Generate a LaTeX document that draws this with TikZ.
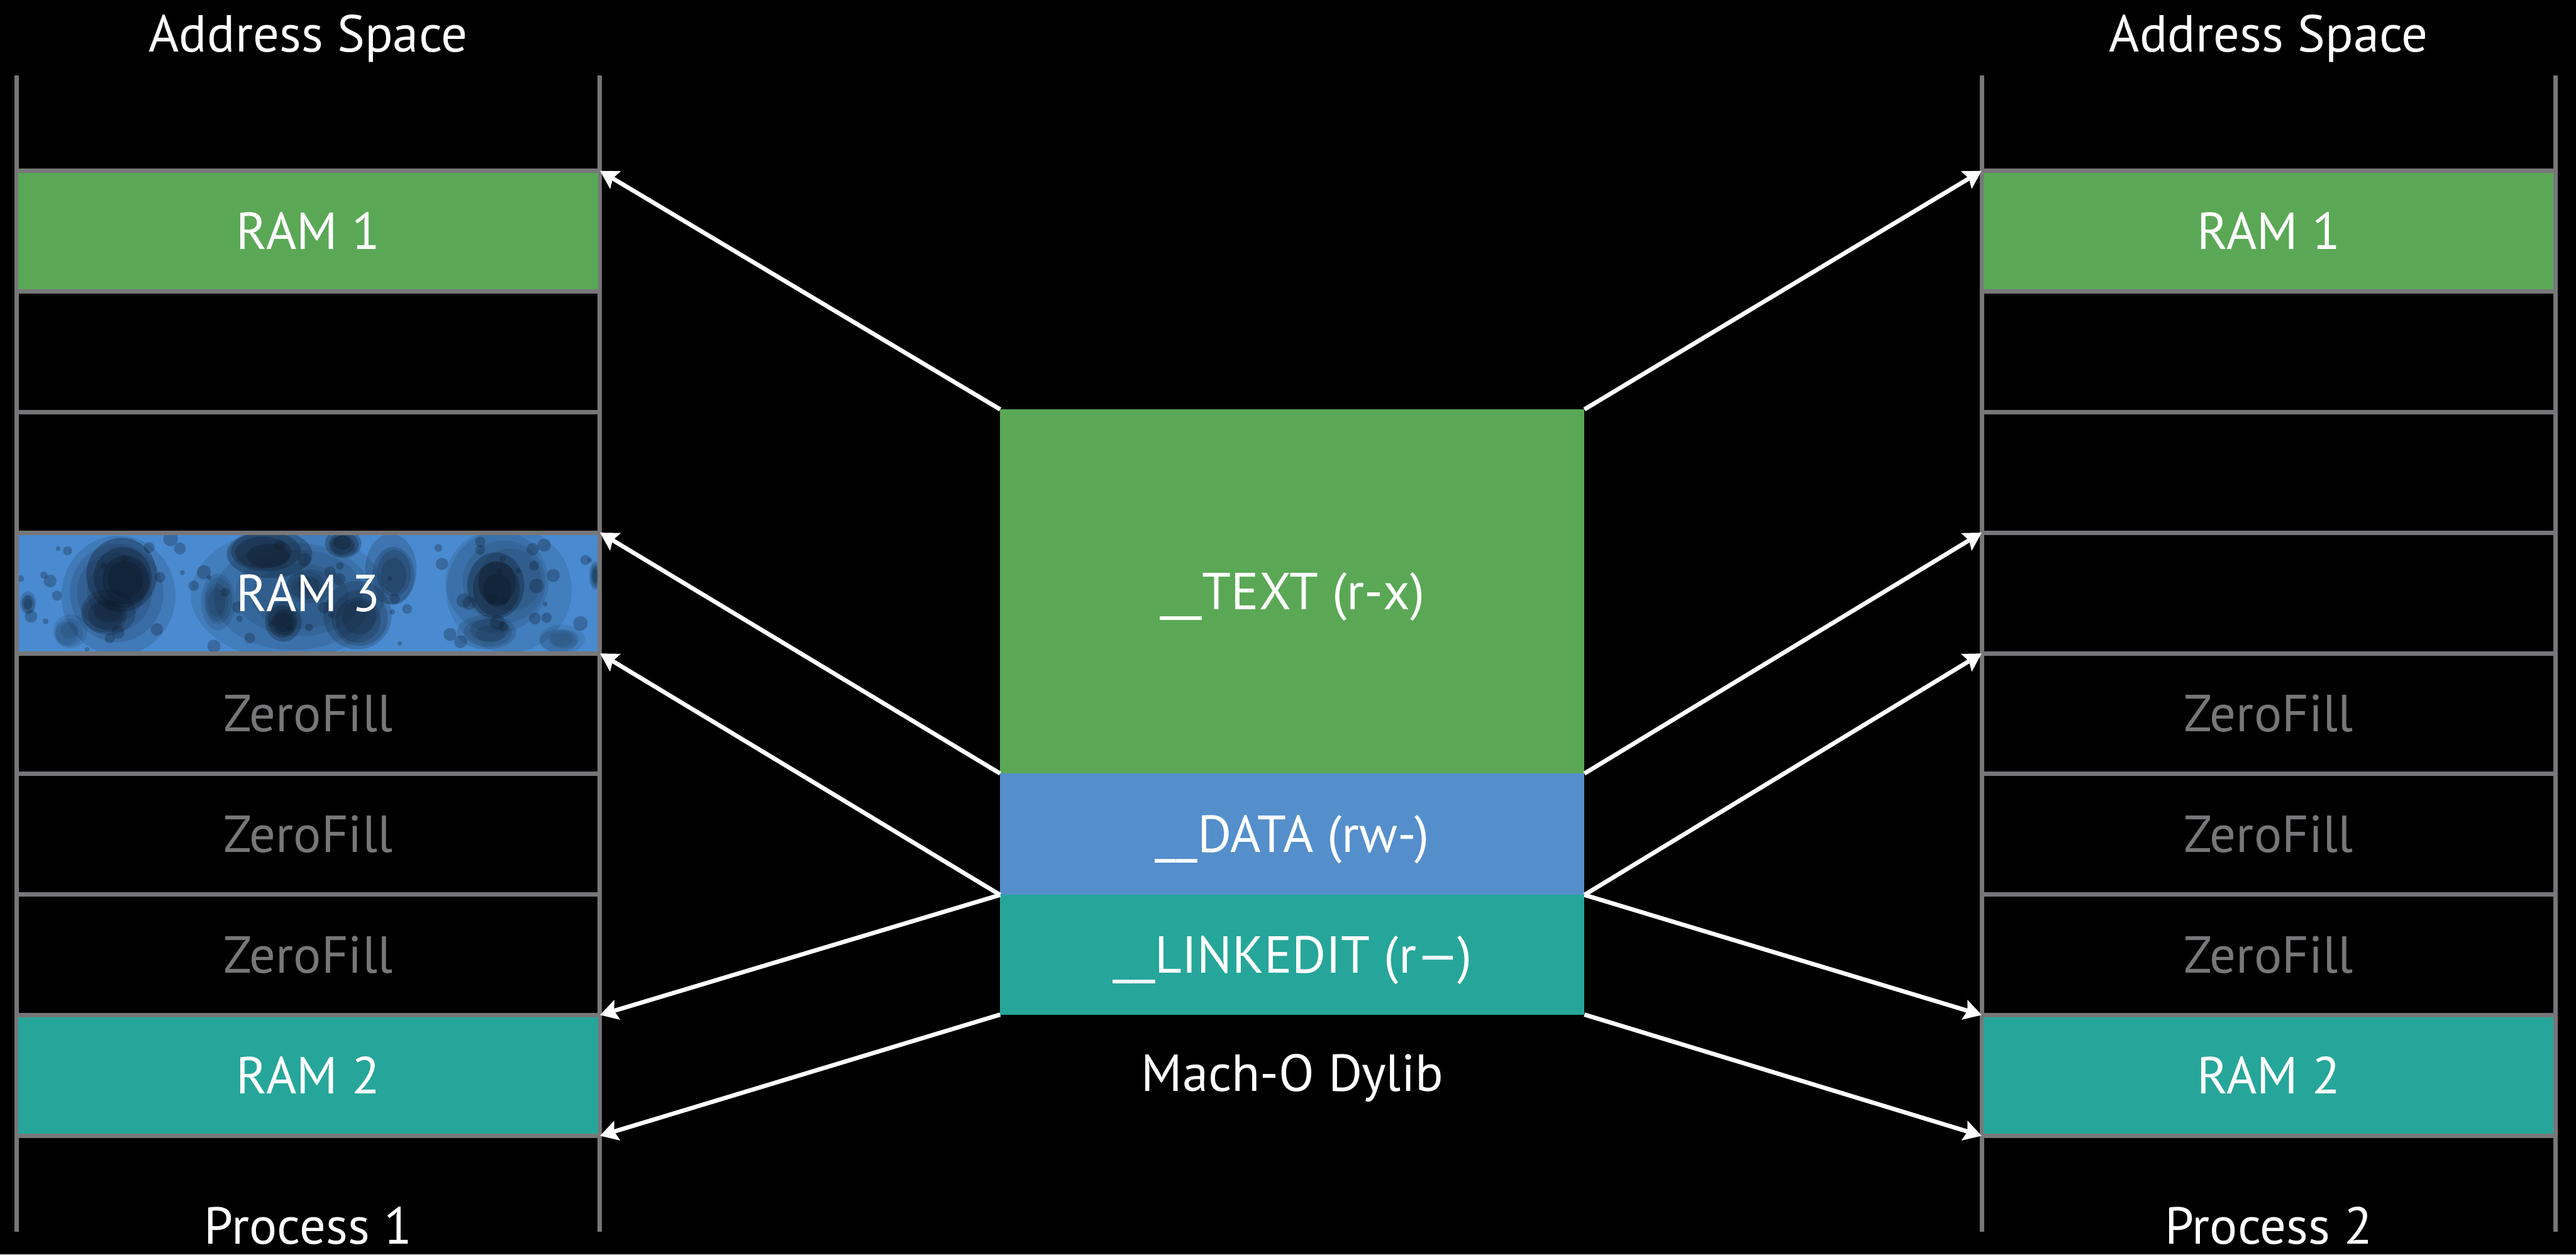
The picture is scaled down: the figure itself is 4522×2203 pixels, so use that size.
\documentclass[tikz,border=0pt]{standalone}
\usepackage{fontspec}
\setmainfont{PT Sans}
\usetikzlibrary{positioning,arrows.meta}

\definecolor{ramgreen}{HTML}{5AA855}
\definecolor{datablue}{HTML}{548FCC}
\definecolor{linkteal}{HTML}{26A69A}
\definecolor{gridgray}{HTML}{77777A}
\definecolor{stainblue}{HTML}{4A8AD0}
\definecolor{inkblue}{HTML}{0C1826}

\newcommand\slidefont{\fontsize{26}{31}\selectfont}

\begin{document}
\begin{tikzpicture}[x=0.01cm,y=-0.01cm]
    \tikzset{
        slot/.style={minimum height=2.12cm,inner sep=0pt,outer sep=0pt,draw=gridgray,line width=0.075cm,
            text=white,text height=0.64cm,text depth=0pt,font=\slidefont},
        leftslot/.style={slot,minimum width=10.24cm},
        rightslot/.style={slot,minimum width=10.07cm},
        ramone/.style={fill=ramgreen},
        ramtwo/.style={fill=linkteal},
        zero/.style={text=gridgray},
        blank/.style={},
        segment/.style={minimum width=10.25cm,inner sep=0pt,outer sep=0pt,
            text=white,text height=0.64cm,text depth=0pt,font=\slidefont},
        maplink/.style={white,line width=0.075cm,-{Stealth[length=0.31cm,width=0.35cm,inset=0.05cm]}},
        caption/.style={white,font=\slidefont,inner sep=0pt,anchor=base},
    }
    \useasboundingbox (0,0) rectangle (4522,2203);
    \fill[black] (0,0) rectangle (4522,2203);

    % ink stained RAM 3 page
    \pgfmathsetseed{11}
    \begin{scope}
        \clip (29,933) rectangle (1053,1145);
        \fill[stainblue] (29,933) rectangle (1053,1145);
        \foreach \cx/\cy/\rx/\ry/\op in {
            200/1045/100/105/0.35, 218/1012/62/65/0.85, 185/1075/48/40/0.6,
            48/1060/14/20/0.5, 120/1110/30/30/0.3,
            520/1040/170/115/0.3, 465/972/75/42/0.8, 600/955/32/25/0.75,
            495/1090/32/35/0.75, 630/1085/60/60/0.55, 690/1005/45/62/0.5,
            380/1060/30/50/0.35, 540/1030/40/30/0.35,
            885/1030/110/110/0.3, 868/1030/50/58/0.85, 860/1110/52/30/0.4,
            985/1125/40/25/0.3, 1045/1010/10/25/0.5
        }
            \foreach \s in {1,0.82,0.66,0.5}{
                \pgfmathsetmacro\rxs{\rx*\s}
                \pgfmathsetmacro\rys{\ry*\s}
                \pgfmathsetmacro\dx{\cx+rand*0.12*\rx}
                \pgfmathsetmacro\dy{\cy+rand*0.12*\ry}
                \pgfmathsetmacro\oo{\op*0.38}
                \fill[inkblue,opacity=\oo] (\dx,\dy) ellipse [x radius=\rxs,y radius=\rys];
            }
        % drips
        \foreach \i in {1,...,70}{
            \pgfmathsetmacro\px{541+rand*510}
            \pgfmathsetmacro\py{1039+rand*106}
            \pgfmathsetmacro\pr{4+9*rnd}
            \fill[inkblue,opacity=0.28] (\px,\py) circle [radius=\pr];
        }
    \end{scope}

    % address space columns
    \foreach \x in {29,1053,3479,4486}
        \draw[gridgray,line width=0.075cm] (\x,133) -- (\x,2163);
    \foreach \sty/\txt [count=\k from 0] in {ramone/RAM 1,blank/,blank/,blank/RAM 3,
            zero/ZeroFill,zero/ZeroFill,zero/ZeroFill,ramtwo/RAM 2}
        \node[leftslot,\sty] (pa\k) at (541,{406+211.75*\k}) {\txt};
    \foreach \sty/\txt [count=\k from 0] in {ramone/RAM 1,blank/,blank/,blank/,
            zero/ZeroFill,zero/ZeroFill,zero/ZeroFill,ramtwo/RAM 2}
        \node[rightslot,\sty] (pb\k) at (3982.5,{406+211.75*\k}) {\txt};

    % dylib segments
    \node[segment,minimum height=6.39cm,fill=ramgreen] (text) at (2268.5,1038.5) {\_\_TEXT (r-x)};
    \node[segment,minimum height=2.13cm,fill=datablue,anchor=north] (data) at (text.south) {\_\_DATA (rw-)};
    \node[segment,minimum height=2.10cm,fill=linkteal,anchor=north] (linkedit) at (data.south) {\_\_LINKEDIT (r—)};
    \node[caption] (dylib) at (2268.5,1916) {Mach-O Dylib};

    \node[caption] (spacea) at (541,91) {Address Space};
    \node[caption] (spaceb) at (3982.5,91) {Address Space};
    \node[caption] (proca) at (541,2184) {Process 1};
    \node[caption] (procb) at (3982.5,2184) {Process 2};

    % mappings
    \foreach \src/\dst in {text.north west/pa0.north east,text.south west/pa3.north east,
            data.south west/pa3.south east,data.south west/pa7.north east,linkedit.south west/pa7.south east,
            text.north east/pb0.north west,text.south east/pb3.north west,
            data.south east/pb3.south west,data.south east/pb7.north west,linkedit.south east/pb7.south west}
        \draw[maplink] (\src) -- (\dst);
\end{tikzpicture}
\end{document}
